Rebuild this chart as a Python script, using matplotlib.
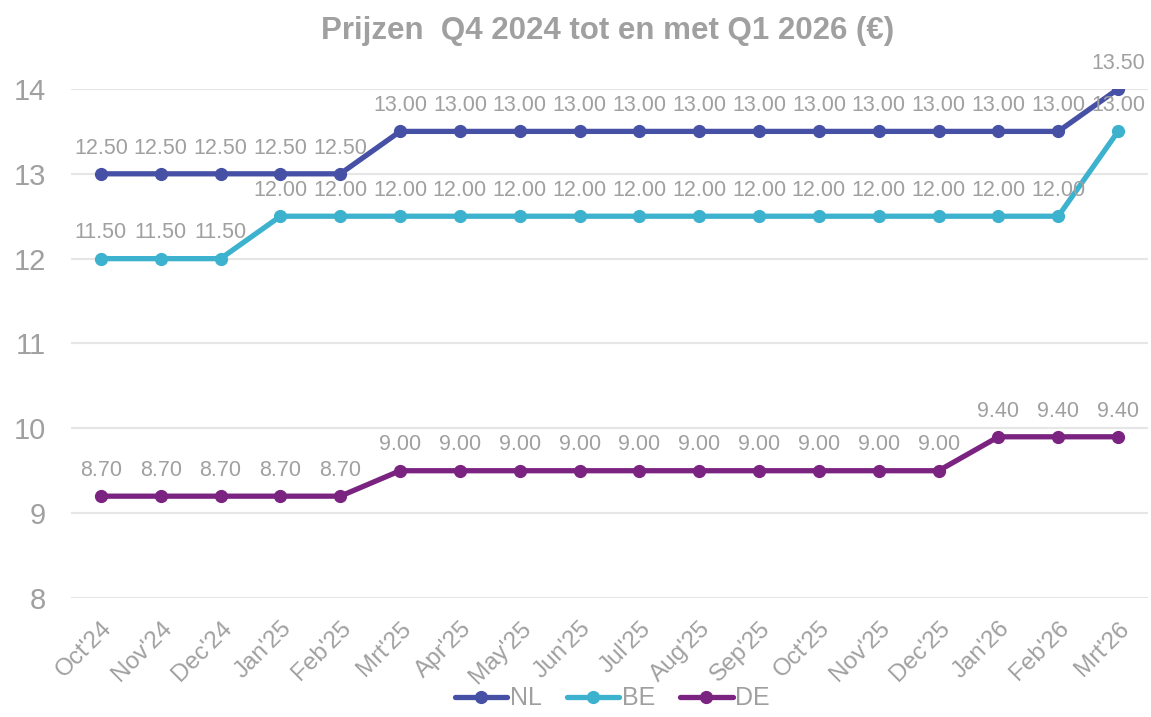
import numpy as np
import matplotlib

matplotlib.use("Agg")
import matplotlib.pyplot as plt

plt.rcParams["font.family"] = ["Liberation Sans", "DejaVu Sans"]

months = ["Oct'24", "Nov'24", "Dec'24", "Jan'25", "Feb'25", "Mrt'25", "Apr'25",
          "May'25", "Jun'25", "Jul'25", "Aug'25", "Sep'25", "Oct'25", "Nov'25",
          "Dec'25", "Jan'26", "Feb'26", "Mrt'26"]
nl = [12.5] * 5 + [13.0] * 12 + [13.5]
be = [11.5] * 3 + [12.0] * 14 + [13.0]
de = [8.7] * 5 + [9.0] * 10 + [9.4] * 3
# the source chart's axis labels sit 0.5 above the plotted values
ytick_pos = [7.5, 8.5, 9.5, 10.5, 11.5, 12.5, 13.5]
ytick_labels = ["8", "9", "10", "11", "12", "13", "14"]

grey = "#a0a0a0"
series = [("NL", nl, "#4651a6"), ("BE", be, "#3db2ce"), ("DE", de, "#7b2380")]

fig = plt.figure(figsize=(11.51, 7.17), dpi=100)
ax = fig.add_axes([0.0617, 0.166, 0.9357, 0.7099])

x = np.arange(len(months))
for name, vals, col in series:
    ax.plot(x, vals, color=col, lw=3.8, marker="o", ms=8.5, label=name,
            solid_capstyle="round", zorder=3)
    for xi, v in zip(x, vals):
        ax.annotate("%.2f" % v, (xi, v), xytext=(0, 11), textcoords="offset points",
                    ha="center", va="bottom", fontsize=15.5, color=grey, zorder=4)

ax.set_xlim(-0.5, len(months) - 0.5)
ax.set_ylim(7.5, 13.5)
ax.set_yticks(ytick_pos)
ax.set_yticklabels(ytick_labels)
ax.set_xticks(x)
ax.set_xticklabels(months, rotation=45, ha="right", rotation_mode="anchor")
ax.tick_params(axis="x", length=0, pad=14, labelsize=17.5, labelcolor=grey)
ax.tick_params(axis="y", length=0, pad=18, labelsize=21, labelcolor=grey)
ax.grid(axis="y", color="#e6e6e6", lw=1.5)
ax.set_axisbelow(True)
for s in ax.spines.values():
    s.set_visible(False)

fig.suptitle("Prijzen  Q4 2024 tot en met Q1 2026 (€)", x=0.528, y=0.977,
             fontsize=22.5, fontweight="bold", color=grey)
fig.legend(loc="lower center", bbox_to_anchor=(0.532, -0.022), ncol=3, frameon=False,
           fontsize=18, labelcolor=grey, handlelength=2.1, handletextpad=0.1,
           columnspacing=1.0)

fig.savefig("out.png", dpi=100)
